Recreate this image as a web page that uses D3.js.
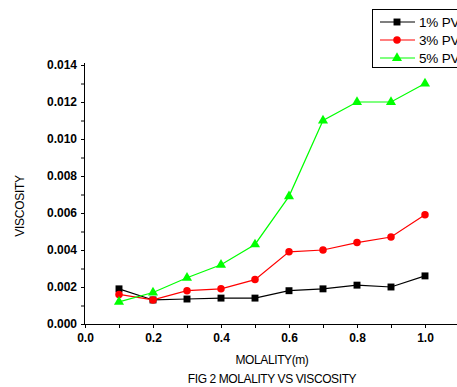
<!DOCTYPE html>
<html>
<head>
<meta charset="utf-8">
<script src="https://cdn.jsdelivr.net/npm/d3@7"></script>
<style>
  html, body { margin: 0; padding: 0; background: #fff; }
  svg { display: block; font-family: "Liberation Sans", Arial, sans-serif; }
</style>
</head>
<body>
<svg id="chart" width="457" height="387"></svg>
<script>
// Molality (m) on the x axis
const molality = [0.1, 0.2, 0.3, 0.4, 0.5, 0.6, 0.7, 0.8, 0.9, 1.0];
// Viscosity readings for each PVA concentration
const pva1 = [0.0019, 0.0013, 0.00135, 0.0014, 0.0014, 0.0018, 0.0019, 0.0021, 0.0020, 0.0026];
const pva3 = [0.0016, 0.0013, 0.0018, 0.0019, 0.0024, 0.0039, 0.0040, 0.0044, 0.0047, 0.0059];
const pva5 = [0.0012, 0.0017, 0.0025, 0.0032, 0.0043, 0.0069, 0.0110, 0.0120, 0.0120, 0.0130];
const seriesNames = ["1% PVA", "3% PVA", "5% PVA"];
const xTickValues = [0.0, 0.2, 0.4, 0.6, 0.8, 1.0];
const yTickValues = [0.000, 0.002, 0.004, 0.006, 0.008, 0.010, 0.012, 0.014];

const svg = d3.select("#chart");

const x = d3.scaleLinear().domain([0, 1.1]).range([85, 459]);
const y = d3.scaleLinear().domain([0, 0.014]).range([324, 65]);

const series = [
  { name: seriesNames[0], values: pva1, color: "#000000", symbol: d3.symbolSquare, size: 48 },
  { name: seriesNames[1], values: pva3, color: "#ff0000", symbol: d3.symbolCircle, size: 44 },
  { name: seriesNames[2], values: pva5, color: "#00ff00", symbol: d3.symbolTriangle, size: 44 }
];

// X axis: minor ticks every 0.1, labels every 0.2
const xMinor = d3.range(0, 11).map(i => i / 10);
svg.append("g")
  .attr("transform", `translate(0,${y(0)})`)
  .call(d3.axisBottom(x).tickValues(xMinor).tickSize(4).tickFormat(""))
  .call(g => g.select(".domain").attr("d", `M${x(0)},0.5H457`))
  .call(g => g.selectAll("line").attr("stroke", "#000"));
svg.append("g")
  .attr("transform", `translate(0,${y(0)})`)
  .call(d3.axisBottom(x).tickValues(xTickValues).tickSize(0).tickPadding(9).tickFormat(d3.format(".1f")))
  .call(g => g.select(".domain").remove())
  .call(g => g.selectAll("text")
    .attr("font-size", 12).attr("font-weight", "bold").attr("fill", "#000")
    .attr("font-family", "Liberation Sans, Arial, sans-serif"));

// Y axis: minor ticks every 0.001, labels every 0.002
const yMinor = d3.range(0, 15).map(i => i / 1000);
svg.append("g")
  .attr("transform", `translate(${x(0)},0)`)
  .call(d3.axisLeft(y).tickValues(yMinor).tickSize(4).tickFormat(""))
  .call(g => g.select(".domain").attr("d", `M-0.5,${y(0)}V63`))
  .call(g => g.selectAll("line").attr("stroke", "#000"));
svg.append("g")
  .attr("transform", `translate(${x(0)},0)`)
  .call(d3.axisLeft(y).tickValues(yTickValues).tickSize(0).tickPadding(8).tickFormat(d3.format(".3f")))
  .call(g => g.select(".domain").remove())
  .call(g => g.selectAll("text")
    .attr("font-size", 12).attr("font-weight", "bold").attr("fill", "#000")
    .attr("font-family", "Liberation Sans, Arial, sans-serif"));

// Series lines and markers
const line = d3.line().x((d, i) => x(molality[i])).y(d => y(d));
series.forEach(s => {
  svg.append("path")
    .attr("d", line(s.values))
    .attr("fill", "none")
    .attr("stroke", s.color)
    .attr("stroke-width", 1.2);
  svg.append("g").selectAll("path")
    .data(s.values)
    .join("path")
    .attr("transform", (d, i) => `translate(${x(molality[i])},${y(d)})`)
    .attr("d", d3.symbol().type(s.symbol).size(s.size))
    .attr("fill", s.color);
});

// Axis titles and caption
svg.append("text")
  .attr("x", 272).attr("y", 364)
  .attr("text-anchor", "middle")
  .attr("font-size", 12).attr("letter-spacing", -0.4)
  .text("MOLALITY(m)");
svg.append("text")
  .attr("x", 272).attr("y", 383)
  .attr("text-anchor", "middle")
  .attr("font-size", 12).attr("letter-spacing", -0.4)
  .text("FIG 2 MOLALITY VS VISCOSITY");
svg.append("text")
  .attr("transform", "translate(24,206) rotate(-90)")
  .attr("text-anchor", "middle")
  .attr("font-size", 12).attr("letter-spacing", -0.3)
  .text("VISCOSITY");

// Legend (box runs past the right edge of the figure)
const legend = svg.append("g");
legend.append("rect")
  .attr("x", 372.5).attr("y", 9.5)
  .attr("width", 100).attr("height", 58)
  .attr("fill", "#fff").attr("stroke", "#000");
series.forEach((s, i) => {
  const ly = 22 + i * 18;
  legend.append("line")
    .attr("x1", 380).attr("x2", 415).attr("y1", ly).attr("y2", ly)
    .attr("stroke", s.color).attr("stroke-width", 1.2);
  legend.append("path")
    .attr("transform", `translate(397,${ly})`)
    .attr("d", d3.symbol().type(s.symbol).size(s.size))
    .attr("fill", s.color);
  legend.append("text")
    .attr("x", 419).attr("y", ly + 5)
    .attr("font-size", 13.5).attr("letter-spacing", -0.2)
    .text(s.name);
});
</script>
</body>
</html>
